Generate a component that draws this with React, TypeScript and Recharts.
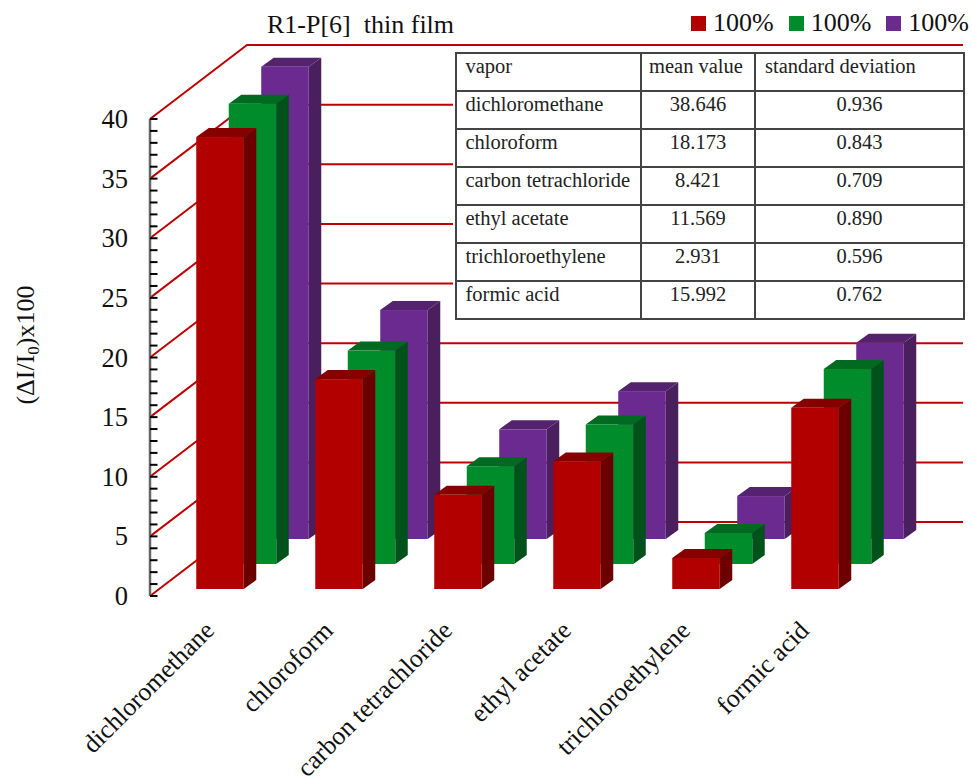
import React from "react";
import { BarChart, Bar, XAxis, YAxis, CartesianGrid, Legend } from "recharts";

const SERIF = "'Liberation Serif', 'Times New Roman', serif";

const categories = [
  "dichloromethane",
  "chloroform",
  "carbon tetrachloride",
  "ethyl acetate",
  "trichloroethylene",
  "formic acid",
];
const redValues = [37.9, 17.6, 7.9, 10.7, 2.6, 15.2];
const greenValues = [38.6, 17.9, 8.2, 11.7, 2.6, 16.35];
const purpleValues = [39.6, 19.2, 9.2, 12.4, 3.6, 16.45];

const yTicks = Array.from({ length: 41 }, (_, i) => i);
const gridValues = [0, 5, 10, 15, 20, 25, 30, 35, 40];

const tableHeader = ["vapor", "mean value", "standard deviation"];
const tableVapors = categories;
const tableMeans = ["38.646", "18.173", "8.421", "11.569", "2.931", "15.992"];
const tableDeviations = ["0.936", "0.843", "0.709", "0.890", "0.596", "0.762"];

const chartData = categories.map((name, i) => ({
  name,
  red: redValues[i],
  green: greenValues[i],
  purple: purpleValues[i],
}));

// depth of the extruded box faces
const DEPTH_X = 12.5;
const DEPTH_Y = -9;
// wall receding from the y axis
const WALL_X = 97;
const WALL_Y = -74;
const WALL_RIGHT = 963;
const GRID_RED = "#c00000";

const RED = { front: "#b20000", side: "#6c0000", top: "#860000" };
const GREEN = { front: "#008c2a", side: "#00521b", top: "#006a20" };
const PURPLE = { front: "#6b2a90", side: "#4a1f5e", top: "#55226f" };

type Tone = { front: string; side: string; top: string };

// Each series sits on its own row of the floor, so the box is pushed by dx/dy.
const boxShape = (tone: Tone, dx: number, dy: number) => (props: any) => {
  const x = props.x + dx;
  const y = props.y + dy;
  const { width: w, height: h } = props;
  return (
    <g>
      <polygon
        points={`${x + w},${y} ${x + w + DEPTH_X},${y + DEPTH_Y} ${x + w + DEPTH_X},${y + h + DEPTH_Y} ${x + w},${y + h}`}
        fill={tone.side}
      />
      <polygon
        points={`${x},${y} ${x + DEPTH_X},${y + DEPTH_Y} ${x + w + DEPTH_X},${y + DEPTH_Y} ${x + w},${y}`}
        fill={tone.top}
      />
      <rect x={x} y={y} width={w} height={h} fill={tone.front} />
    </g>
  );
};

const wallLine = (props: any) => {
  const { x1, y1 } = props;
  const xb = x1 + WALL_X;
  const yb = y1 + WALL_Y;
  return (
    <path
      key={props.key ?? y1}
      d={`M${x1},${y1} L${xb},${yb} L${WALL_RIGHT},${yb}`}
      fill="none"
      stroke={GRID_RED}
      strokeWidth={2}
    />
  );
};

const YTick = (props: any) => {
  const { x, y, payload } = props;
  return (
    <g>
      <line x1={x} x2={x + 7.5} y1={y} y2={y} stroke="#000" strokeWidth={2} />
      {payload.value % 5 === 0 && (
        <text x={x - 22} y={y + 9} textAnchor="end" fontFamily={SERIF} fontSize={26.5} fill="#111">
          {payload.value}
        </text>
      )}
    </g>
  );
};

const XTick = (props: any) => {
  const { x, y, payload } = props;
  const ax = x + 6;
  const ay = y + 34;
  return (
    <text
      x={ax}
      y={ay}
      textAnchor="end"
      transform={`rotate(-45 ${ax} ${ay})`}
      fontFamily={SERIF}
      fontSize={25.8}
      fill="#111"
    >
      {payload.value}
    </text>
  );
};

const LegendRow = (props: any) => {
  const items = [...(props.payload ?? [])].reverse();
  return (
    <div style={{ display: "flex", fontFamily: SERIF, fontSize: 26, color: "#111", lineHeight: "30px" }}>
      {items.map((item: any, i: number) => (
        <div key={i} style={{ display: "flex", alignItems: "center", marginRight: 15 }}>
          <span style={{ width: 15, height: 15, background: item.color, marginRight: 7 }} />
          {item.value}
        </div>
      ))}
    </div>
  );
};

const cell: React.CSSProperties = {
  border: "2px solid #444",
  padding: "1px 0 0 0",
  verticalAlign: "top",
  height: 38,
  boxSizing: "border-box",
  overflow: "hidden",
  whiteSpace: "nowrap",
};

const StatsTable = () => (
  <table
    style={{
      position: "absolute",
      left: 455,
      top: 52,
      width: 508,
      tableLayout: "fixed",
      borderCollapse: "collapse",
      background: "#fff",
      boxShadow: "0 0 0 2px #fff",
      fontFamily: SERIF,
      fontSize: 20.5,
      color: "#222",
    }}
  >
    <colgroup>
      <col style={{ width: 185 }} />
      <col style={{ width: 114 }} />
      <col style={{ width: 209 }} />
    </colgroup>
    <tbody>
      <tr>
        <td style={{ ...cell, paddingLeft: 8.5 }}>{tableHeader[0]}</td>
        <td style={{ ...cell, paddingLeft: 7 }}>{tableHeader[1]}</td>
        <td style={{ ...cell, paddingLeft: 9 }}>{tableHeader[2]}</td>
      </tr>
      {tableVapors.map((vapor, i) => (
        <tr key={vapor}>
          <td style={{ ...cell, paddingLeft: 8.5 }}>{vapor}</td>
          <td style={{ ...cell, textAlign: "center" }}>{tableMeans[i]}</td>
          <td style={{ ...cell, textAlign: "center" }}>{tableDeviations[i]}</td>
        </tr>
      ))}
    </tbody>
  </table>
);

export default function App() {
  return (
    <div style={{ position: "absolute", left: 0, top: 0, width: 972, height: 782, background: "#fff", overflow: "hidden" }}>
      <BarChart
        width={972}
        height={782}
        data={chartData}
        margin={{ top: 119, right: 108, bottom: 0, left: 0 }}
      >
        <CartesianGrid vertical={false} horizontal={wallLine} horizontalValues={gridValues} syncWithTicks={false} />
        <XAxis
          dataKey="name"
          height={186}
          interval={0}
          axisLine={false}
          tickLine={false}
          tickSize={0}
          tick={<XTick />}
        />
        <XAxis dataKey="name" xAxisId="mid" hide />
        <XAxis dataKey="name" xAxisId="back" hide />
        <YAxis
          width={150}
          domain={[0, 40]}
          ticks={yTicks}
          interval={0}
          axisLine={{ stroke: "#666", strokeWidth: 2.5 }}
          tickLine={false}
          tickSize={0}
          tickMargin={0}
          tick={<YTick />}
          label={{
            content: () => (
              <text
                x={34}
                y={345}
                textAnchor="middle"
                transform="rotate(-90 34 345)"
                fontFamily={SERIF}
                fontSize={26}
                fill="#111"
              >
                (ΔI/I<tspan dy={5} fontSize={17}>0</tspan>
                <tspan dy={-5}>)x100</tspan>
              </text>
            ),
          }}
        />
        <Legend
          layout="horizontal"
          verticalAlign="middle"
          content={<LegendRow />}
          wrapperStyle={{ left: 691, top: 8, width: 290, height: 30, margin: 0 }}
        />
        <Bar
          dataKey="purple"
          name="100%"
          xAxisId="back"
          fill={PURPLE.front}
          barSize={47.5}
          isAnimationActive={false}
          shape={boxShape(PURPLE, 75.25, -57)}
        />
        <Bar
          dataKey="green"
          name="100%"
          xAxisId="mid"
          fill={GREEN.front}
          barSize={47.5}
          isAnimationActive={false}
          shape={boxShape(GREEN, 42.75, -32)}
        />
        <Bar
          dataKey="red"
          name="100%"
          fill={RED.front}
          barSize={47.5}
          isAnimationActive={false}
          shape={boxShape(RED, 10.25, -7)}
        />
        <text x={267} y={33} fontFamily={SERIF} fontSize={26} fill="#111" style={{ whiteSpace: "pre" }}>
          {"R1-P[6]  thin film"}
        </text>
      </BarChart>
      <StatsTable />
    </div>
  );
}
